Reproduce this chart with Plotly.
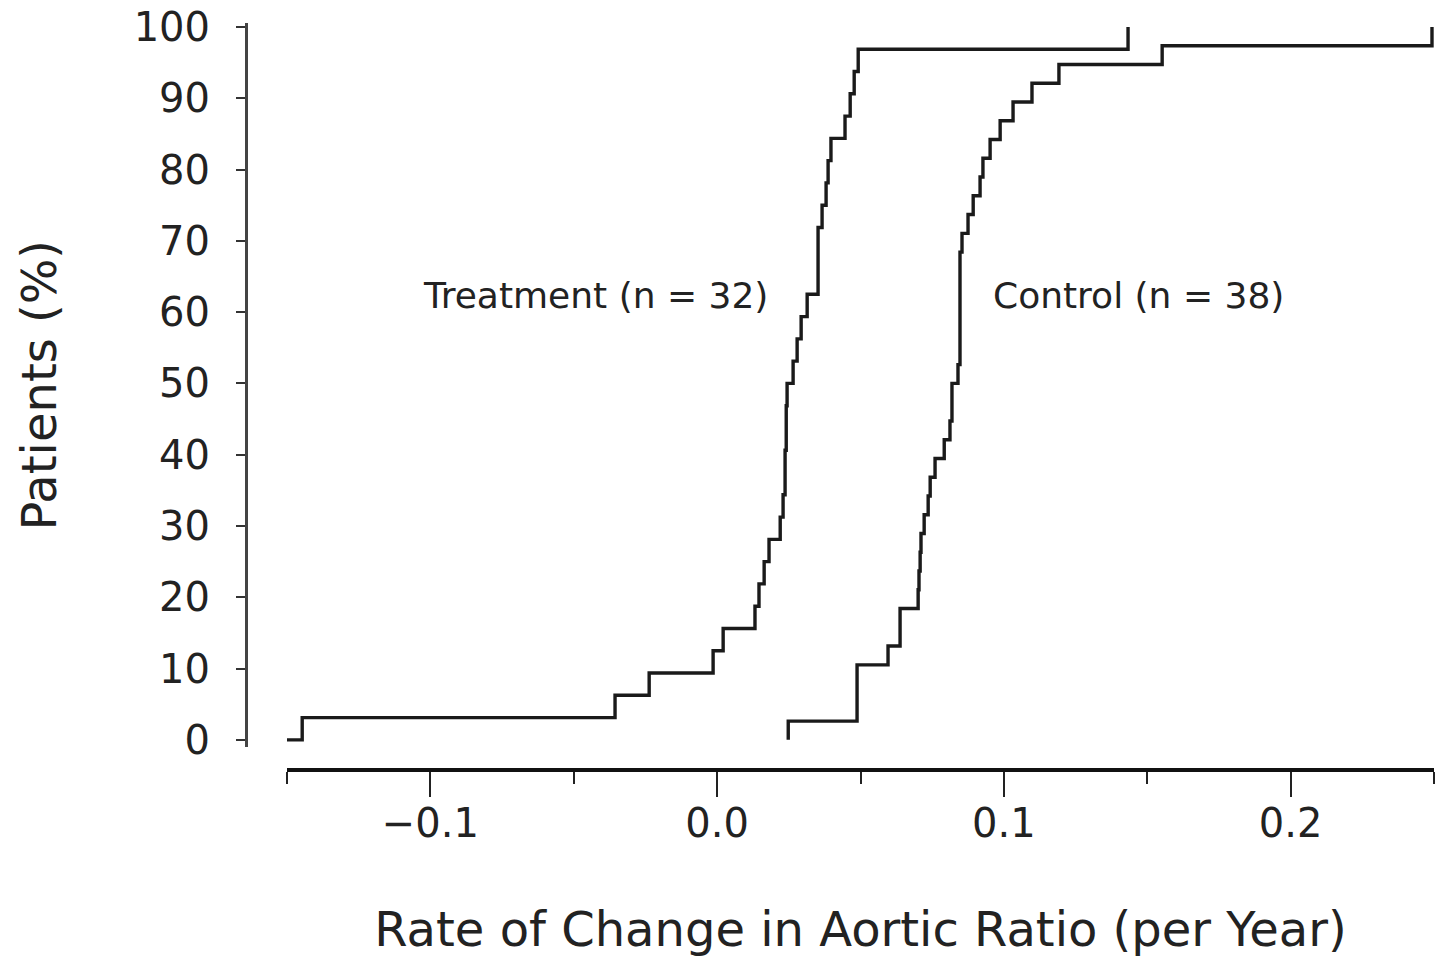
import plotly.graph_objects as go

# Rate of change in aortic ratio (per year), one value per patient
treatment_rates = [
    -0.1447, -0.0356, -0.0237, -0.0014, 0.0021, 0.0132, 0.0146, 0.0164,
    0.0181, 0.0220, 0.0230, 0.0237, 0.0237, 0.0241, 0.0241, 0.0244,
    0.0265, 0.0279, 0.0293, 0.0314, 0.0352, 0.0352, 0.0352, 0.0366,
    0.0380, 0.0387, 0.0397, 0.0446, 0.0464, 0.0478, 0.0492, 0.1433,
]
control_rates = [
    0.0248, 0.0488, 0.0488, 0.0488, 0.0596, 0.0638, 0.0638, 0.0701,
    0.0704, 0.0708, 0.0711, 0.0722, 0.0736, 0.0743, 0.0760, 0.0792,
    0.0812, 0.0819, 0.0819, 0.0840, 0.0847, 0.0847, 0.0847, 0.0847,
    0.0847, 0.0847, 0.0854, 0.0875, 0.0893, 0.0917, 0.0927, 0.0952,
    0.0987, 0.1032, 0.1098, 0.1192, 0.1552, 0.2493,
]
treatment_label = "Treatment (n = 32)"
control_label = "Control (n = 38)"
x_range = [-0.15, 0.25]
x_major = [-0.1, 0.0, 0.1, 0.2]
x_minor = [-0.15, -0.05, 0.05, 0.15, 0.25]
y_ticks = [0, 10, 20, 30, 40, 50, 60, 70, 80, 90, 100]


def ecdf(values, start=None):
    v = sorted(values)
    n = len(v)
    xs = [start if start is not None else v[0]]
    ys = [0.0]
    for i, val in enumerate(v):
        xs.append(val)
        ys.append((i + 1) * 100.0 / n)
    return xs, ys


tx, ty = ecdf(treatment_rates, start=x_range[0])
cx, cy = ecdf(control_rates)

LINE = "#1a1a1a"
TEXT = "#222222"

fig = go.Figure()
fig.add_trace(go.Scatter(x=tx, y=ty, mode="lines", line=dict(shape="hv", color=LINE, width=3.4),
                         name="Treatment", hoverinfo="skip"))
fig.add_trace(go.Scatter(x=cx, y=cy, mode="lines", line=dict(shape="hv", color=LINE, width=3.4),
                         name="Control", hoverinfo="skip"))

fig.add_annotation(x=-0.0425, y=62.3, text=treatment_label, showarrow=False,
                   font=dict(size=36, color=TEXT, family="DejaVu Sans"))
fig.add_annotation(x=0.1468, y=62.3, text=control_label, showarrow=False,
                   font=dict(size=36, color=TEXT, family="DejaVu Sans"))

W, H = 1435, 959
fig.update_layout(
    width=W, height=H,
    margin=dict(l=0, r=0, t=0, b=0, autoexpand=False),
    paper_bgcolor="white", plot_bgcolor="white",
    showlegend=False,
    font=dict(family="DejaVu Sans", color=TEXT),
    xaxis=dict(
        domain=[287 / W, 1434 / W], range=x_range,
        anchor="free", position=(H - 770) / H, automargin=False,
        showline=True, linewidth=4, linecolor="#111111",
        ticks="outside", ticklen=25, tickwidth=2, tickcolor="#222222",
        tickmode="array", tickvals=x_major, tickformat=".1f",
        minor=dict(tickmode="array", tickvals=x_minor, ticks="outside", ticklen=12,
                   tickwidth=2, tickcolor="#222222", showgrid=False),
        tickfont=dict(size=40, color=TEXT), ticklabelstandoff=-8,
        showgrid=False, zeroline=False,
        title=dict(text="Rate of Change in Aortic Ratio (per Year)",
                   font=dict(size=48, color=TEXT), standoff=66),
    ),
    yaxis=dict(
        domain=[(H - 747) / H, (H - 23.4) / H], range=[-1, 100.5],
        anchor="free", position=246 / W, automargin=False,
        showline=True, linewidth=3, linecolor="#444444",
        ticks="outside", ticklen=9, tickwidth=2, tickcolor="#333333",
        tickmode="array", tickvals=y_ticks,
        tickfont=dict(size=40, color=TEXT), ticklabelstandoff=18,
        showgrid=False, zeroline=False,
        title=dict(text="Patients (%)", font=dict(size=48, color=TEXT), standoff=60),
    ),
)

fig.write_html("out.html")
